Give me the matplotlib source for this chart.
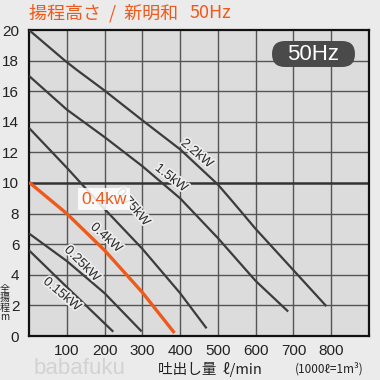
import matplotlib
matplotlib.use("Agg")
import matplotlib.pyplot as plt
import matplotlib.patheffects as pe
from matplotlib.patches import FancyBboxPatch

plt.rcParams['font.family'] = ['Liberation Sans', 'Noto Sans CJK JP', 'DejaVu Sans']

# ---- data (flow l/min, head m) ----
flow_22 = [0, 95, 126, 197, 300, 400, 500, 535, 600, 700, 787]
head_22 = [20, 18, 17.4, 16.1, 14.1, 12.2, 9.9, 8.9, 7.0, 4.3, 1.95]

flow_15 = [0, 100, 200, 300, 400, 500, 600, 686]
head_15 = [17.0, 14.8, 13.0, 11.1, 9.0, 6.4, 3.6, 1.6]

flow_075 = [0, 100, 200, 300, 400, 470]
head_075 = [13.6, 11.0, 8.3, 5.7, 2.8, 0.5]

flow_04 = [0, 100, 200, 300, 385]
head_04 = [10.05, 8.0, 5.6, 2.85, 0.2]

flow_025 = [0, 100, 200, 298]
head_025 = [6.7, 4.9, 2.8, 0.3]

flow_015 = [0, 100, 223]
head_015 = [5.6, 3.2, 0.28]

curve_labels = ["2.2kW", "1.5kW", "0.75kW", "0.4kW", "0.25kW", "0.15kW"]
x_ticks = [100, 200, 300, 400, 500, 600, 700, 800]
y_ticks = [0, 2, 4, 6, 8, 10, 12, 14, 16, 18, 20]

title_main = "揚程高さ  /  新明和"
title_freq = "50Hz"
badge_text = "50Hz"
highlight_text = "0.4kw"
xlabel_text = "吐出し量  ℓ/min"
unit_note = "(1000ℓ=1m³)"
ylabel_text = "全\n揚\n程\nm"

ORANGE = "#EE5A1C"
DARK = "#3c3c3c"

fig = plt.figure(figsize=(3.8, 3.8), dpi=100, facecolor="#ebebeb")
ax = fig.add_axes([29/380, 44/380, 340/380, 306/380])
ax.set_facecolor("#dcdcdc")
ax.set_xlim(0, 900)
ax.set_ylim(0, 20)

# grid
for xv in x_ticks:
    ax.axvline(xv, color="#555555", lw=1.0, zorder=1)
for yv in y_ticks[1:-1]:
    ax.axhline(yv, color="#555555" if yv != 10 else "#333333", lw=1.0 if yv != 10 else 1.8, zorder=1)

for s in ax.spines.values():
    s.set_linewidth(1.6)
    s.set_color("#111111")

ax.set_xticks(x_ticks)
ax.set_yticks(y_ticks)
ax.tick_params(length=0, labelsize=11, colors="#222222")
ax.tick_params(axis='y', pad=7)
ax.tick_params(axis='x', pad=6)

series = [(flow_22, head_22), (flow_15, head_15), (flow_075, head_075),
          (flow_025, head_025), (flow_015, head_015)]
for fx, hy in series:
    ax.plot(fx, hy, color=DARK, lw=1.6, solid_capstyle='butt', zorder=3)
ax.plot(flow_04, head_04, color=ORANGE, lw=2.4, solid_capstyle='butt', zorder=4)

# curve labels
label_pos = [(444, 11.9, -40), (376, 10.3, -38), (275, 8.4, -50),
             (204, 6.4, -42), (140, 4.7, -45), (87, 2.7, -40)]
halo = [pe.withStroke(linewidth=2.5, foreground="#eeeeee")]
for txt, (lx, ly, rot) in zip(curve_labels, label_pos):
    ax.text(lx, ly, txt, rotation=rot, rotation_mode='anchor', ha='center', va='center',
            fontsize=9.5, color="#2a2a2a", path_effects=halo, zorder=5)

# highlighted label box
ax.text(198, 8.95, highlight_text, ha='center', va='center', fontsize=12.5, color=ORANGE,
        zorder=6, bbox=dict(boxstyle='square,pad=0.2', fc='white', ec='none', alpha=0.85))

# 50Hz badge (pill)
pill = FancyBboxPatch((272/380, (380-67)/380), 83/380, 26/380,
                      boxstyle='round,pad=0,rounding_size=%f' % (13/380),
                      transform=fig.transFigure, fc='#4a4a4a', ec='none', zorder=7)
fig.add_artist(pill)
fig.text(313/380, (380-54)/380, badge_text, ha='center', va='center',
         fontsize=16, color='white', zorder=8)

# title
fig.text(29/380, (380-4)/380, title_main, ha='left', va='top', fontsize=13, color=ORANGE,
         family=['Noto Sans CJK JP', 'DejaVu Sans'])
fig.text(190/380, (380-4)/380, title_freq, ha='left', va='top', fontsize=13, color=ORANGE,
         family=['Noto Sans CJK JP', 'DejaVu Sans'])

# axis labels
fig.text(210/380, (380-369)/380, xlabel_text, ha='center', va='center', fontsize=10.5,
         color="#222222", family=['Noto Sans CJK JP', 'DejaVu Sans'])
fig.text(329/380, (380-369)/380, unit_note, ha='center', va='center', fontsize=8.5,
         color="#222222", family=['Noto Sans CJK JP', 'DejaVu Sans'])
fig.text(5/380, (380-303)/380, ylabel_text, ha='center', va='center', fontsize=7.2,
         color="#222222", linespacing=0.95, family=['Noto Sans CJK JP', 'DejaVu Sans'])

# watermark
fig.text(34/380, (380-369)/380, "babafuku", ha='left', va='center', fontsize=16,
         color="#d2d2d2")

fig.savefig("out.png", dpi=100, facecolor=fig.get_facecolor())
